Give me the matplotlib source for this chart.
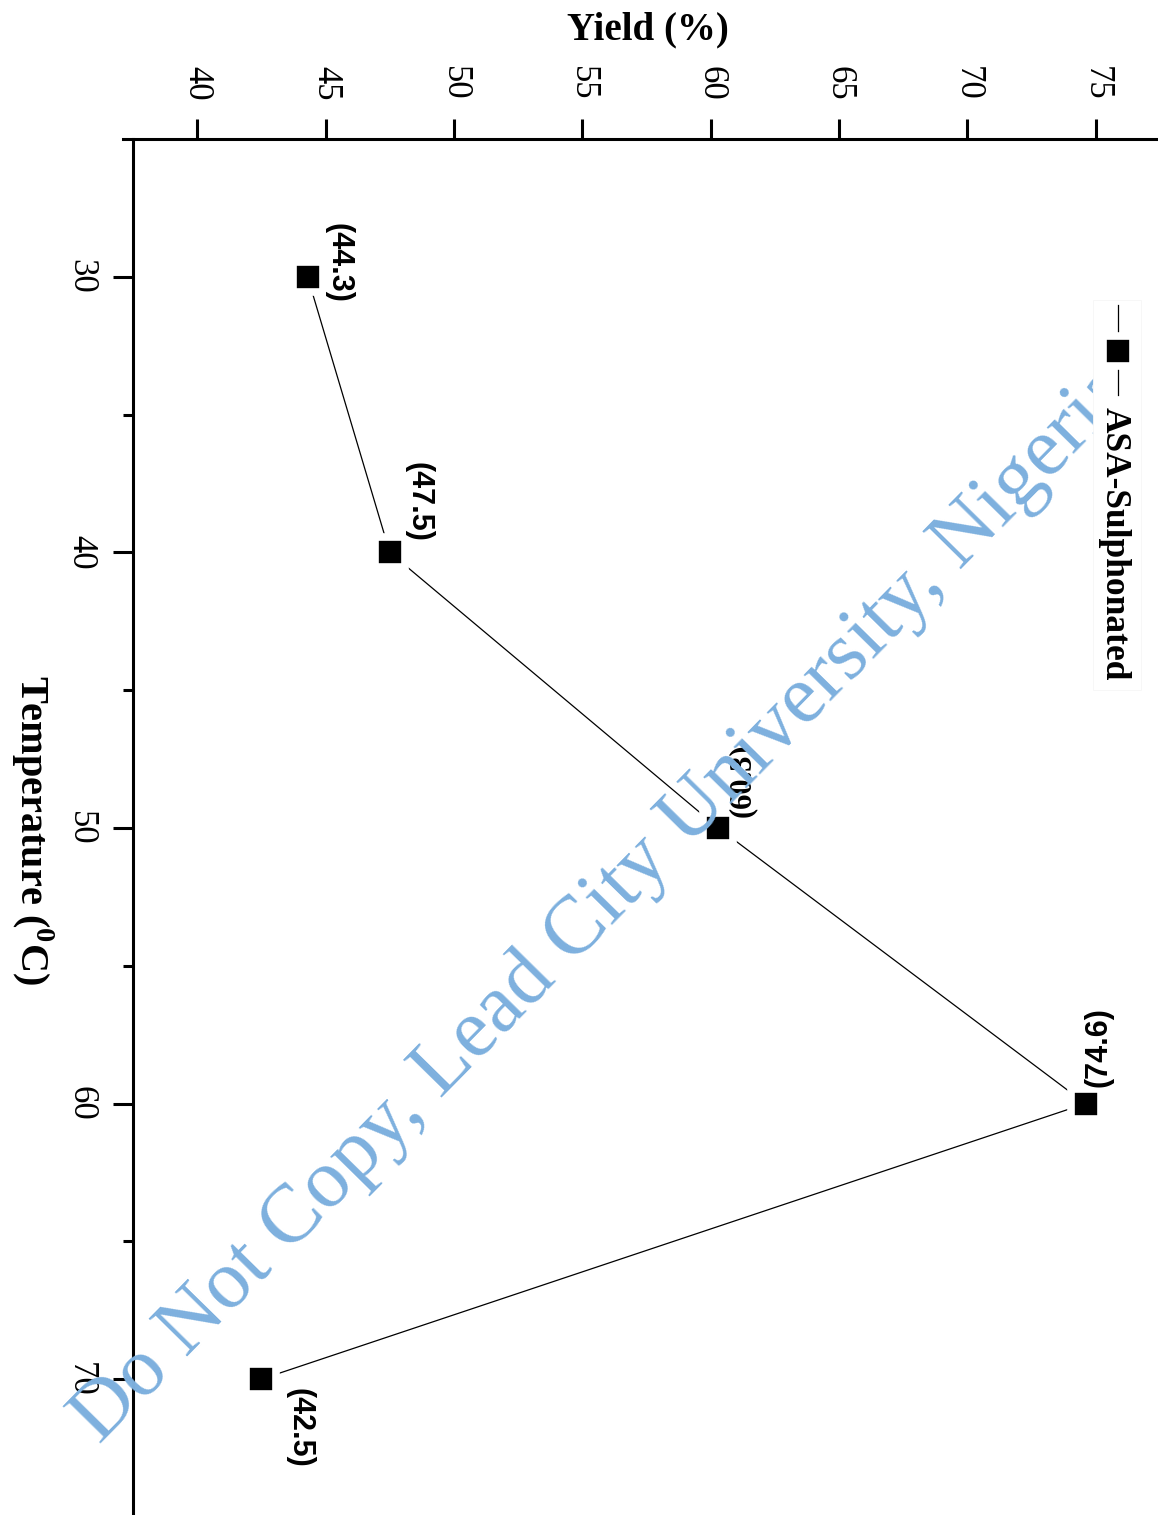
import matplotlib.pyplot as plt
from matplotlib.lines import Line2D
from matplotlib.patches import Rectangle

plt.rcParams['font.family'] = ['Liberation Serif', 'DejaVu Serif']
plt.rcParams['mathtext.fontset'] = 'custom'
plt.rcParams['mathtext.rm'] = 'Liberation Serif'
plt.rcParams['mathtext.bf'] = 'Liberation Serif:bold'

# data
temperature = [30, 40, 50, 60, 70]
yield_pct = [44.3, 47.5, 60.3, 74.6, 42.5]
point_labels = ['(44.3)', '(47.5)', '(60.3)', '(74.6)', '(42.5)']
yield_ticks = [40, 45, 50, 55, 60, 65, 70, 75]
temp_ticks = [30, 40, 50, 60, 70]
temp_minor = [35, 45, 55, 65]
series_name = 'ASA-Sulphonated'
watermark = 'Do Not Copy, Lead City University, Nigeria'

# where each value label sits next to its marker (pixels), and how it is turned
label_offsets = [(31, 14), (29, 50), (24, 48), (13, 57), (38, -49)]
label_rotation = [-90, -90, 90, 90, -90]
label_family = ['Liberation Sans', 'Liberation Sans', 'Liberation Serif',
                'Liberation Sans', 'Liberation Sans']

W, H = 1158, 1515
fig = plt.figure(figsize=(W / 100, H / 100), dpi=100)


def fx(x):
    return x / W


def fy(y):
    return 1 - y / H


# plot turned on its side: yield runs across, temperature runs down
ax = fig.add_axes([fx(133), fy(1517), (1160 - 133) / W, (1517 - 139) / H])
mstyle = dict(color='black', lw=0.9, marker='s', ms=21.5, mfc='black',
              mec='white', mew=5.5)
ax.plot(yield_pct, temperature, zorder=3, **mstyle)

ax.set_xlim(37.5, 77.5)
ax.set_ylim(75, 25)
for side in ['right', 'bottom']:
    ax.spines[side].set_visible(False)
for side in ['left', 'top']:
    ax.spines[side].set_linewidth(2.2)
ax.spines['top'].set_bounds(37.1, 77.5)

ax.xaxis.tick_top()
ax.set_xticks(yield_ticks)
ax.set_yticks(temp_ticks)
ax.set_yticks(temp_minor, minor=True)
ax.tick_params(axis='x', which='major', direction='out', length=14.4, width=2.2,
               pad=13, labelsize=25, labelrotation=-90)
ax.tick_params(axis='y', which='major', direction='out', length=14.4, width=2.2,
               pad=11.5, labelsize=25, labelrotation=-90)
ax.tick_params(axis='y', which='minor', direction='out', length=7.2, width=2.2)
for lab in ax.get_yticklabels():
    lab.set_va('center')

for t, y, s, (dx, dy), rot, fam in zip(temperature, yield_pct, point_labels,
                                        label_offsets, label_rotation, label_family):
    ax.annotate(s, (y, t), xytext=(dx, dy), textcoords='offset pixels',
                ha='center', va='center', rotation=rot, fontsize=22,
                fontweight='bold', family=fam, zorder=5)

# axis titles
fig.text(fx(648), fy(30), 'Yield (%)', ha='center', va='center',
         fontsize=28, fontweight='bold')
fig.text(fx(32), fy(830), r'Temperature ($^{\mathbf{0}}$C)', rotation=-90,
         ha='center', va='center', fontsize=29, fontweight='bold')

# watermark across the page
fig.text(fx(100), fy(1445), watermark, rotation=45.5, rotation_mode='anchor',
         ha='left', va='baseline', fontsize=60, color='#7db0de', zorder=10)

# legend entry, drawn by hand so it can stand upright, on a white box
box = Rectangle((fx(1093), fy(690)), fx(1141) - fx(1093), fy(300) - fy(690),
                transform=fig.transFigure, facecolor='white',
                edgecolor='#f6f6f6', lw=0.6, zorder=11)
fig.add_artist(box)
leg = Line2D([fx(1118)] * 3, [fy(305), fy(351), fy(395)],
             transform=fig.transFigure, markevery=[1], zorder=12, **mstyle)
fig.add_artist(leg)
fig.text(fx(1114), fy(544), series_name, rotation=-90, ha='center',
         va='center', fontsize=25.5, fontweight='bold', zorder=12)

fig.savefig('out.png', dpi=100)
